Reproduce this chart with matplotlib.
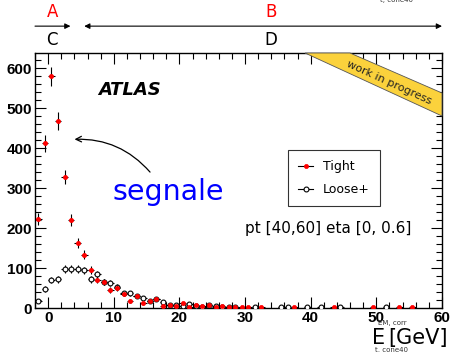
import numpy as np
import matplotlib
matplotlib.use("Agg")
import matplotlib.pyplot as plt
from matplotlib.patches import Polygon
from matplotlib.lines import Line2D

# bin centres (1 GeV bins)
centres = np.arange(-1.5, 60, 1.0)

tight = [222, 412, 580, 468, 328, 220, 162, 133, 96, 70,
         65, 45, 50, 35, 18, 30, 12, 18, 22, 5,
         8, 5, 12, 3, 8, 4, 8, 3, 4, 3,
         2, 2, 2, 0, 2, 0, 0, 0, 0, 2,
         0, 0, 0, 0, 0, 2, 0, 0, 0, 0,
         0, 2, 0, 0, 0, 2, 0, 2, 0, 0,
         0, 0]
loose = [18, 47, 70, 72, 98, 98, 97, 94, 72, 84,
         65, 62, 52, 37, 37, 30, 25, 18, 22, 15,
         8, 7, 5, 9, 5, 3, 7, 4, 3, 2,
         2, 0, 0, 2, 0, 0, 0, 2, 2, 0,
         0, 2, 0, 2, 0, 0, 2, 0, 0, 0,
         0, 0, 0, 2, 0, 0, 0, 0, 0, 0,
         0, 0]

tight = np.array(tight, float)
loose = np.array(loose, float)

fig = plt.figure(figsize=(4.51, 3.52), dpi=100)
ax = fig.add_axes([0.0776, 0.125, 0.9024, 0.724])

def draw(vals, mfc, ms, mew, z):
    m = vals > 0
    mec = 'black' if mfc == 'white' else mfc
    ax.errorbar(centres[m], vals[m], yerr=np.sqrt(vals[m]), xerr=0.5,
                fmt='o', ms=ms, mfc=mfc, mec=mec, mew=mew, ecolor='black',
                elinewidth=0.8, capsize=0, zorder=z)
    return Line2D([], [], color='black', lw=0.8, marker='o', ms=ms,
                  mfc=mfc, mec=mec, mew=mew)

h1 = draw(tight, 'red', 3, 0.5, 4)
h2 = draw(loose, 'white', 3.5, 0.8, 3)

ax.set_xlim(-2, 60)
ax.set_ylim(0, 638)
ax.set_xticks(np.arange(0, 61, 10))
ax.set_xticks(np.arange(-2, 61, 2), minor=True)
ax.set_yticks(np.arange(0, 601, 100))
ax.set_yticks(np.arange(0, 638, 20), minor=True)
ax.tick_params(which='both', direction='in', top=True, right=True, width=0.8)
ax.tick_params(which='major', length=8, pad=2)
ax.tick_params(which='minor', length=4)
for lab in ax.get_xticklabels() + ax.get_yticklabels():
    lab.set_fontfamily('Liberation Sans')
    lab.set_fontweight('bold')
    lab.set_fontsize(11)
for s in ax.spines.values():
    s.set_linewidth(1.0)

# work in progress banner
band = Polygon([(305 / 451, 1 - 53 / 352), (350 / 451, 1 - 53 / 352),
                (442 / 451, 1 - 93 / 352), (442 / 451, 1 - 116 / 352)],
               closed=True, transform=fig.transFigure, facecolor='#fbd23c',
               edgecolor='#555555', lw=0.6, zorder=5)
fig.patches.append(band)
fig.text(389 / 451, 1 - 83 / 352, 'work in progress', rotation=-24.5,
         ha='center', va='center', fontsize=8, color='#222222', zorder=6)

ax.text(0.155, 0.855, 'ATLAS', transform=ax.transAxes, fontfamily='DejaVu Sans',
        fontweight='bold', fontstyle='italic', fontsize=13, va='center')
ax.text(0.19, 0.455, 'segnale', transform=ax.transAxes, color='blue',
        fontsize=20.5, va='center')
ax.annotate('', xy=(3.6, 422), xytext=(15.8, 335),
            arrowprops=dict(arrowstyle='->', color='black', lw=0.9,
                            connectionstyle='arc3,rad=0.25'))
ax.text(0.517, 0.31, 'pt [40,60] eta [0, 0.6]', transform=ax.transAxes,
        fontsize=11, va='center')

leg = ax.legend(handles=[h1, h2], labels=['Tight', 'Loose+'], loc='upper left',
                bbox_to_anchor=(0.622, 0.62), borderaxespad=0,
                frameon=True, fancybox=False, edgecolor='black', fontsize=9,
                handlelength=1.2, borderpad=0.8, labelspacing=0.8)
leg.get_frame().set_linewidth(0.8)

# ranges above the frame
tr = ax.get_xaxis_transform()
ax.annotate('', xy=(3.4, 1.106), xytext=(-2, 1.106), xycoords=tr, textcoords=tr,
            arrowprops=dict(arrowstyle='-|>', color='black', lw=0.8, mutation_scale=8,
                            shrinkA=0, shrinkB=0))
ax.annotate('', xy=(60, 1.106), xytext=(5.5, 1.106), xycoords=tr, textcoords=tr,
            arrowprops=dict(arrowstyle='<|-|>', color='black', lw=0.8, mutation_scale=8,
                            shrinkA=0, shrinkB=0))
for x, y, s, c in [(0.6, 1.161, 'A', 'red'), (34, 1.161, 'B', 'red'),
                   (0.6, 1.051, 'C', 'black'), (34, 1.051, 'D', 'black')]:
    ax.text(x, y, s, transform=tr, color=c, fontsize=12, ha='center', va='center')

# axis title
fig.text(372 / 451, 1 - 338 / 352, 'E', fontsize=15, va='center', ha='left')
fig.text(388 / 451, 1 - 338 / 352, '[GeV]', fontsize=15, va='center', ha='left')
fig.text(378 / 451, 1 - 323 / 352, 'EM, corr', fontsize=5, color='#333333', va='center')
fig.text(375 / 451, 1 - 350 / 352, 't, cone40', fontsize=5, color='#333333', va='center')
fig.text(380 / 451, 1.0, 't, cone40', fontsize=5, color='#333333', va='center')

fig.savefig('out.png', dpi=100)
